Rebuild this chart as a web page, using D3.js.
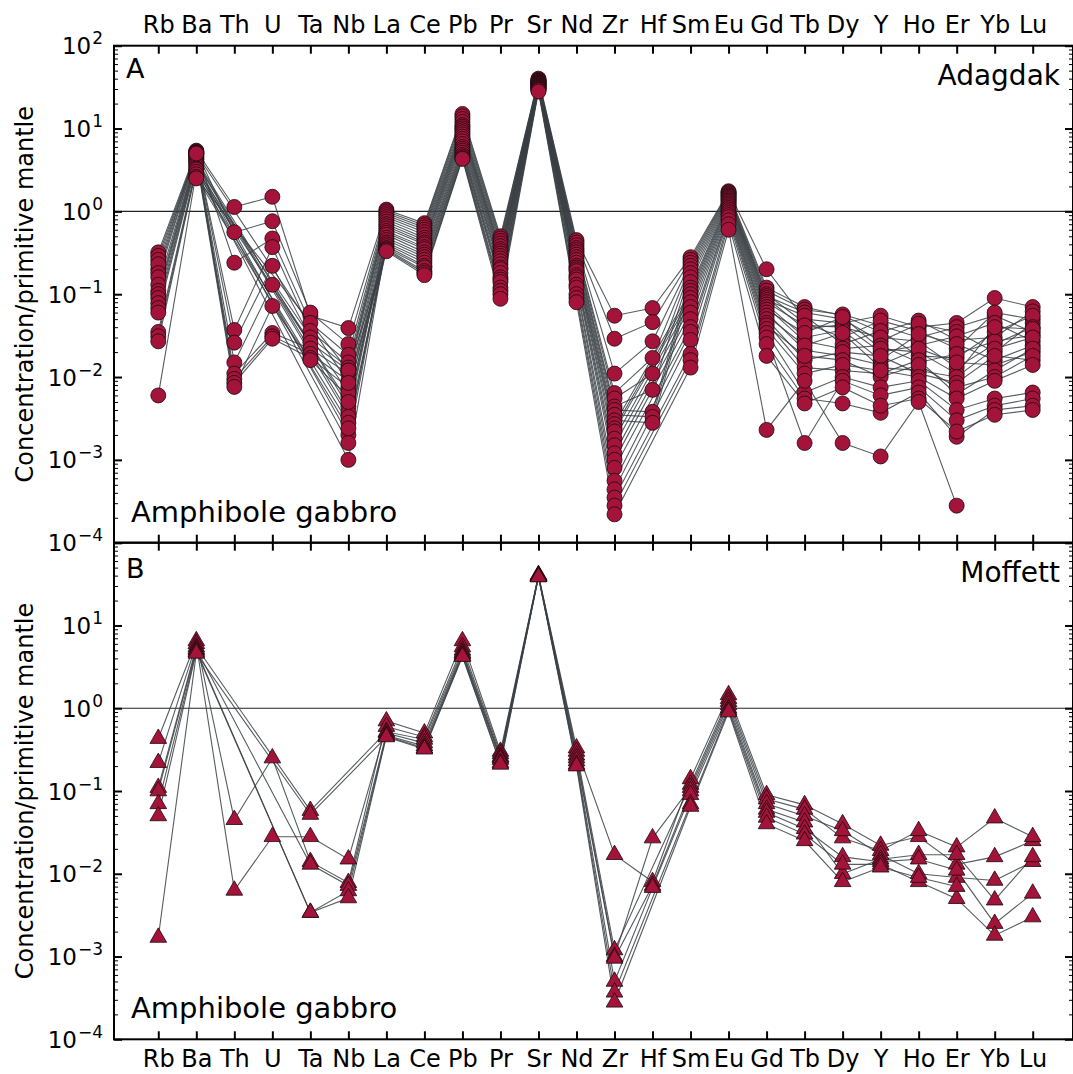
<!DOCTYPE html>
<html>
<head>
<meta charset="utf-8">
<script src="https://cdn.jsdelivr.net/npm/d3@7"></script>
<style>
  body { margin: 0; background: #fff; }
  svg { display: block; }
  text { font-family: "DejaVu Sans", sans-serif; fill: #000; }
</style>
</head>
<body>
<svg id="chart" width="1073" height="1074"></svg>
<script>
// Trace elements in spider-diagram order (primitive-mantle normalised)
const elements = ["Rb","Ba","Th","U","Ta","Nb","La","Ce","Pb","Pr","Sr","Nd","Zr","Hf","Sm","Eu","Gd","Tb","Dy","Y","Ho","Er","Yb","Lu"];

// Adagdak amphibole gabbros: one row per sample, null = not analysed
const adagdakSamples = [
  [0.32, 5.4, 1.13, 1.5, 0.055, 0.039, 1.05, 0.72, 15, 0.5, 40, 0.45, 0.055, 0.068, 0.28, 1.75, 0.2, 0.05, 0.045, 0.055, 0.04, 0.045, 0.09, 0.07],
  [0.2, 5.3, 0.56, 0.76, 0.06, 0.025, 1.0, 0.68, 14, 0.47, 39, 0.42, 0.029, 0.046, 0.26, 1.7, 0.12, 0.07, 0.055, 0.035, 0.048, 0.028, 0.03, 0.062],
  [0.29, 5.2, 0.24, 0.47, 0.045, 0.0185, 0.95, 0.64, 13, 0.44, 38, 0.39, 0.011, 0.027, 0.24, 1.65, 0.11, 0.065, 0.057, 0.042, 0.03, 0.04, 0.055, 0.035],
  [0.26, 5.1, 0.037, 0.37, 0.036, 0.015, 0.9, 0.6, 12, 0.41, 37.5, 0.36, 0.0064, 0.017, 0.22, 1.6, 0.1, 0.045, 0.03, 0.048, 0.036, 0.022, 0.06, 0.05],
  [0.23, 5.0, 0.026, 0.22, 0.03, 0.013, 0.85, 0.56, 11, 0.38, 37, 0.34, 0.0055, 0.011, 0.2, 1.55, 0.095, 0.06, 0.05, 0.027, 0.044, 0.035, 0.02, 0.045],
  [0.18, 4.9, 0.015, 0.13, 0.026, 0.012, 0.8, 0.52, 10.5, 0.35, 36.5, 0.32, 0.0044, 0.007, 0.18, 1.5, 0.09, 0.038, 0.043, 0.02, 0.024, 0.031, 0.045, 0.027],
  [0.16, 4.8, 0.011, 0.034, 0.022, 0.011, 0.75, 0.48, 10, 0.33, 36, 0.3, 0.004, 0.0038, 0.16, 1.45, 0.085, 0.055, 0.025, 0.036, 0.018, 0.017, 0.035, 0.055],
  [0.13, 4.6, 0.0095, 0.031, 0.019, 0.009, 0.7, 0.45, 9.5, 0.31, 35.5, 0.28, 0.0035, 0.0033, 0.14, 1.4, 0.08, 0.042, 0.04, 0.03, 0.027, 0.013, 0.025, 0.04],
  [0.11, 4.5, 0.0085, 0.029, 0.017, 0.0075, 0.66, 0.42, 9, 0.29, 35, 0.26, 0.003, 0.0028, 0.12, 1.35, 0.075, 0.03, 0.037, 0.016, 0.033, 0.025, 0.016, 0.024],
  [0.1, 4.3, 0.0076, 0.072, 0.016, 0.0058, 0.62, 0.4, 8.5, 0.27, 34.5, 0.24, 0.0027, null, 0.11, 1.3, 0.07, 0.027, 0.022, 0.024, 0.015, 0.019, 0.027, 0.032],
  [0.09, 4.2, null, null, null, 0.0044, 0.58, 0.37, 8, 0.25, 34, 0.22, 0.0024, null, 0.1, 1.25, 0.065, 0.034, 0.053, 0.022, 0.02, 0.011, 0.04, 0.038],
  [0.078, 4.0, null, null, null, 0.0037, 0.55, 0.35, 7.5, 0.23, 33.5, 0.21, 0.0022, null, 0.09, 1.2, 0.06, 0.021, 0.018, 0.014, 0.022, 0.015, 0.014, 0.02],
  [0.068, 3.9, null, null, null, 0.0033, 0.52, 0.32, 7, 0.21, 33, 0.2, 0.0018, null, 0.08, 1.15, 0.055, 0.024, 0.034, 0.013, 0.012, 0.01, 0.022, 0.03],
  [0.06, 3.7, null, null, null, 0.002, 0.48, 0.3, 6.5, 0.2, 32.5, 0.19, 0.0015, null, 0.07, 1.1, 0.05, 0.016, 0.02, 0.018, 0.011, 0.0085, 0.018, 0.016],
  [0.035, 3.5, null, null, null, 0.0016, 0.45, 0.28, 6, 0.18, 32, 0.17, 0.0012, null, 0.06, 1.05, 0.045, 0.013, 0.012, 0.011, 0.016, 0.0062, 0.012, 0.022],
  [0.031, 3.3, null, null, null, 0.001, 0.42, 0.26, 5.7, 0.16, 31.5, 0.16, 0.001, null, 0.05, 1.0, 0.042, 0.018, 0.016, 0.01, 0.014, 0.0075, 0.01, 0.018],
  [0.027, 3.2, null, null, null, 0.0065, 0.4, 0.24, 5.4, 0.15, 31, 0.15, 0.0008, null, 0.04, 0.95, 0.038, 0.011, 0.014, 0.012, 0.01, 0.0055, 0.009, 0.014],
  [0.006, 3.0, null, null, null, 0.005, 0.38, 0.22, 5.1, 0.14, 30.5, 0.13, 0.00056, null, 0.035, 0.9, 0.034, 0.0065, 0.01, 0.0075, 0.009, 0.004, 0.0055, 0.0065],
  [null, 2.8, null, null, null, 0.0028, 0.36, 0.21, 4.8, 0.12, 30, 0.12, 0.00044, null, 0.028, 0.85, 0.03, 0.0016, 0.009, 0.006, 0.0075, 0.003, 0.0045, 0.0055],
  [null, 2.6, null, null, null, 0.0024, 0.35, 0.19, 4.6, 0.11, 29.5, 0.1, 0.00035, null, 0.019, 0.78, 0.025, 0.0055, 0.0048, 0.0037, 0.0065, 0.0019, 0.004, 0.0045],
  [null, 2.5, null, null, null, 0.012, 0.34, 0.18, 4.4, 0.1, 29, 0.09, 0.00028, null, 0.016, 0.7, 0.018, 0.0048, 0.0075, 0.0045, 0.0055, 0.0022, 0.0035, 0.004],
  [null, 5.0, null, null, null, 0.0085, 0.33, 0.17, 4.3, 0.088, 28, 0.08, 0.00022, null, 0.013, 0.6, 0.0023, 0.009, 0.0016, 0.0011, 0.005, 0.00028, null, null]
];

// Moffett amphibole gabbros
const moffettSamples = [
  [0.43, 6.5, 0.045, 0.25, 0.014, 0.0078, 0.7, 0.5, 6.5, 0.3, 41, 0.33, 0.017, 0.008, 0.14, 1.45, 0.09, 0.068, 0.04, 0.022, 0.028, 0.013, 0.016, 0.025],
  [0.22, 6.0, 0.0063, 0.028, 0.028, 0.015, 0.6, 0.45, 5.5, 0.28, 40, 0.3, 0.0012, null, 0.12, 1.3, 0.08, 0.06, 0.027, 0.019, 0.033, 0.021, 0.047, 0.028],
  [0.11, 5.5, null, null, 0.058, null, 0.52, 0.42, 5.0, 0.26, 40, 0.27, 0.001, 0.027, 0.11, 1.2, 0.07, 0.05, 0.033, 0.017, 0.01, 0.009, 0.0083, 0.014],
  [0.1, 5.2, null, null, 0.013, 0.0072, 0.5, 0.38, 4.7, 0.25, 39.5, 0.25, 0.00095, 0.0072, 0.1, 1.1, 0.06, 0.042, 0.01, 0.015, 0.017, 0.017, 0.0048, 0.016],
  [0.07, 5.0, null, null, 0.0034, 0.0062, 0.47, 0.35, 4.5, 0.24, 39, 0.23, 0.0005, 0.0068, 0.09, 1.0, 0.055, 0.035, 0.016, 0.014, 0.015, 0.011, 0.0025, 0.0058],
  [0.05, 4.8, null, null, 0.0034, 0.0051, 0.46, 0.33, 4.3, 0.22, 39, 0.21, 0.00037, null, 0.07, 0.95, 0.048, 0.03, 0.013, 0.013, 0.008, 0.005, 0.0018, 0.003],
  [0.0017, 4.6, null, null, 0.052, null, 0.45, 0.32, 4.2, 0.21, 38.5, 0.2, 0.00028, null, 0.065, 0.9, 0.04, 0.025, 0.008, 0.012, 0.009, 0.007, null, null]
];

const panelLetters = ["A", "B"];
const localities = ["Adagdak", "Moffett"];
const rockType = "Amphibole gabbro";
const yLabel = "Concentration/primitive mantle";
const yExponents = [2, 1, 0, -1, -2, -3, -4];

const svg = d3.select("#chart");
const left = 114, right = 1073;
const panels = [
  { top: 45.7, bottom: 542.7, samples: adagdakSamples, marker: "circle", letterY: 78, locY: 85, rockY: 522, showTop: true, showBottom: false, topExp: 2 },
  { top: 542.7, bottom: 1039.3, samples: moffettSamples, marker: "triangle", letterY: 578, locY: 582, rockY: 1018, showTop: false, showBottom: true, topExp: 1 }
];

const x = d3.scaleLinear().domain([-1.165, 24.06]).range([left, right]);
const idx = d3.range(elements.length);

const fillColor = "#a3133a";
const lineColor = "#3a3f44";

panels.forEach((p, pi) => {
  const y = d3.scaleLog().domain([1e-4, 1e2]).range([p.bottom, p.top]);
  const g = svg.append("g");

  // reference line at unity
  g.append("line")
    .attr("x1", left).attr("x2", right)
    .attr("y1", y(1)).attr("y2", y(1))
    .attr("stroke", "#222").attr("stroke-width", 1.1);

  const line = d3.line().x(d => x(d.i)).y(d => y(d.v));
  const series = p.samples.map(row => row.map((v, i) => ({ i, v })).filter(d => d.v != null));

  g.append("g").selectAll("path").data(series).join("path")
    .attr("d", line)
    .attr("fill", "none")
    .attr("stroke", lineColor)
    .attr("stroke-width", 1.1)
    .attr("stroke-opacity", 0.85);

  const pts = series.flat();
  if (p.marker === "circle") {
    g.append("g").selectAll("circle").data(pts).join("circle")
      .attr("cx", d => x(d.i)).attr("cy", d => y(d.v)).attr("r", 7.5)
      .attr("fill", fillColor).attr("stroke", "#1a0a0e").attr("stroke-width", 0.8);
  } else {
    const tri = d3.symbol().type(d3.symbolTriangle).size(120);
    g.append("g").selectAll("path").data(pts).join("path")
      .attr("d", tri)
      .attr("transform", d => `translate(${x(d.i)},${y(d.v)})`)
      .attr("fill", fillColor).attr("stroke", "#1a0a0e").attr("stroke-width", 0.8);
  }

  // log-axis ticks (inward, both sides)
  const majors = yExponents.map(e => Math.pow(10, e));
  const minors = [];
  for (let e = -4; e < 2; e++) for (let m = 2; m <= 9; m++) minors.push(m * Math.pow(10, e));

  const styleAxis = (sel, w) => {
    sel.select(".domain").remove();
    sel.selectAll(".tick line").attr("stroke", "#000").attr("stroke-width", w);
  };
  g.append("g").attr("transform", `translate(${left},0)`)
    .call(d3.axisLeft(y).tickValues(majors).tickSize(-8).tickFormat(""))
    .call(s => styleAxis(s, 2));
  g.append("g").attr("transform", `translate(${left},0)`)
    .call(d3.axisLeft(y).tickValues(minors).tickSize(-4).tickFormat(""))
    .call(s => styleAxis(s, 1));
  g.append("g").attr("transform", `translate(${right},0)`)
    .call(d3.axisRight(y).tickValues(majors).tickSize(-8).tickFormat(""))
    .call(s => styleAxis(s, 2));
  g.append("g").attr("transform", `translate(${right},0)`)
    .call(d3.axisRight(y).tickValues(minors).tickSize(-4).tickFormat(""))
    .call(s => styleAxis(s, 1));

  // y tick labels as 10 with superscript exponent
  yExponents.filter(e => e <= p.topExp).forEach(e => {
    const t = g.append("text")
      .attr("x", 103).attr("y", y(Math.pow(10, e)) + 8.5)
      .attr("text-anchor", "end").style("font-size", "23px");
    t.append("tspan").text("10");
    t.append("tspan").attr("dx", 1).attr("dy", -10).style("font-size", "17px")
      .text(e < 0 ? "\u2212" + (-e) : String(e));
  });

  // element ticks along top and bottom of each panel
  const xTop = d3.axisTop(x).tickValues(idx).tickSize(-8).tickPadding(12.7)
    .tickFormat(i => p.showTop ? elements[i] : "");
  g.append("g").attr("transform", `translate(0,${p.top})`).call(xTop)
    .call(s => styleAxis(s, 2))
    .call(s => s.selectAll("text").style("font-size", "24px").attr("fill", "#000").style("font-family", "DejaVu Sans"));
  const xBot = d3.axisBottom(x).tickValues(idx).tickSize(-8).tickPadding(10.7)
    .tickFormat(i => p.showBottom ? elements[i] : "");
  g.append("g").attr("transform", `translate(0,${p.bottom})`).call(xBot)
    .call(s => styleAxis(s, 2))
    .call(s => s.selectAll("text").style("font-size", "24px").attr("fill", "#000").style("font-family", "DejaVu Sans"));

  // frame
  g.append("rect")
    .attr("x", left).attr("y", p.top)
    .attr("width", right - left).attr("height", p.bottom - p.top)
    .attr("fill", "none").attr("stroke", "#000").attr("stroke-width", 2);

  // annotations
  g.append("text").attr("x", 126).attr("y", p.letterY).style("font-size", "27px").text(panelLetters[pi]);
  g.append("text").attr("x", 1060).attr("y", p.locY).attr("text-anchor", "end").style("font-size", "28px").text(localities[pi]);
  g.append("text").attr("x", 131).attr("y", p.rockY).style("font-size", "29px").text(rockType);

  // y-axis title
  g.append("text")
    .attr("transform", `translate(33,${(p.top + p.bottom) / 2}) rotate(-90)`)
    .attr("text-anchor", "middle").style("font-size", "24px")
    .text(yLabel);
});
</script>
</body>
</html>
